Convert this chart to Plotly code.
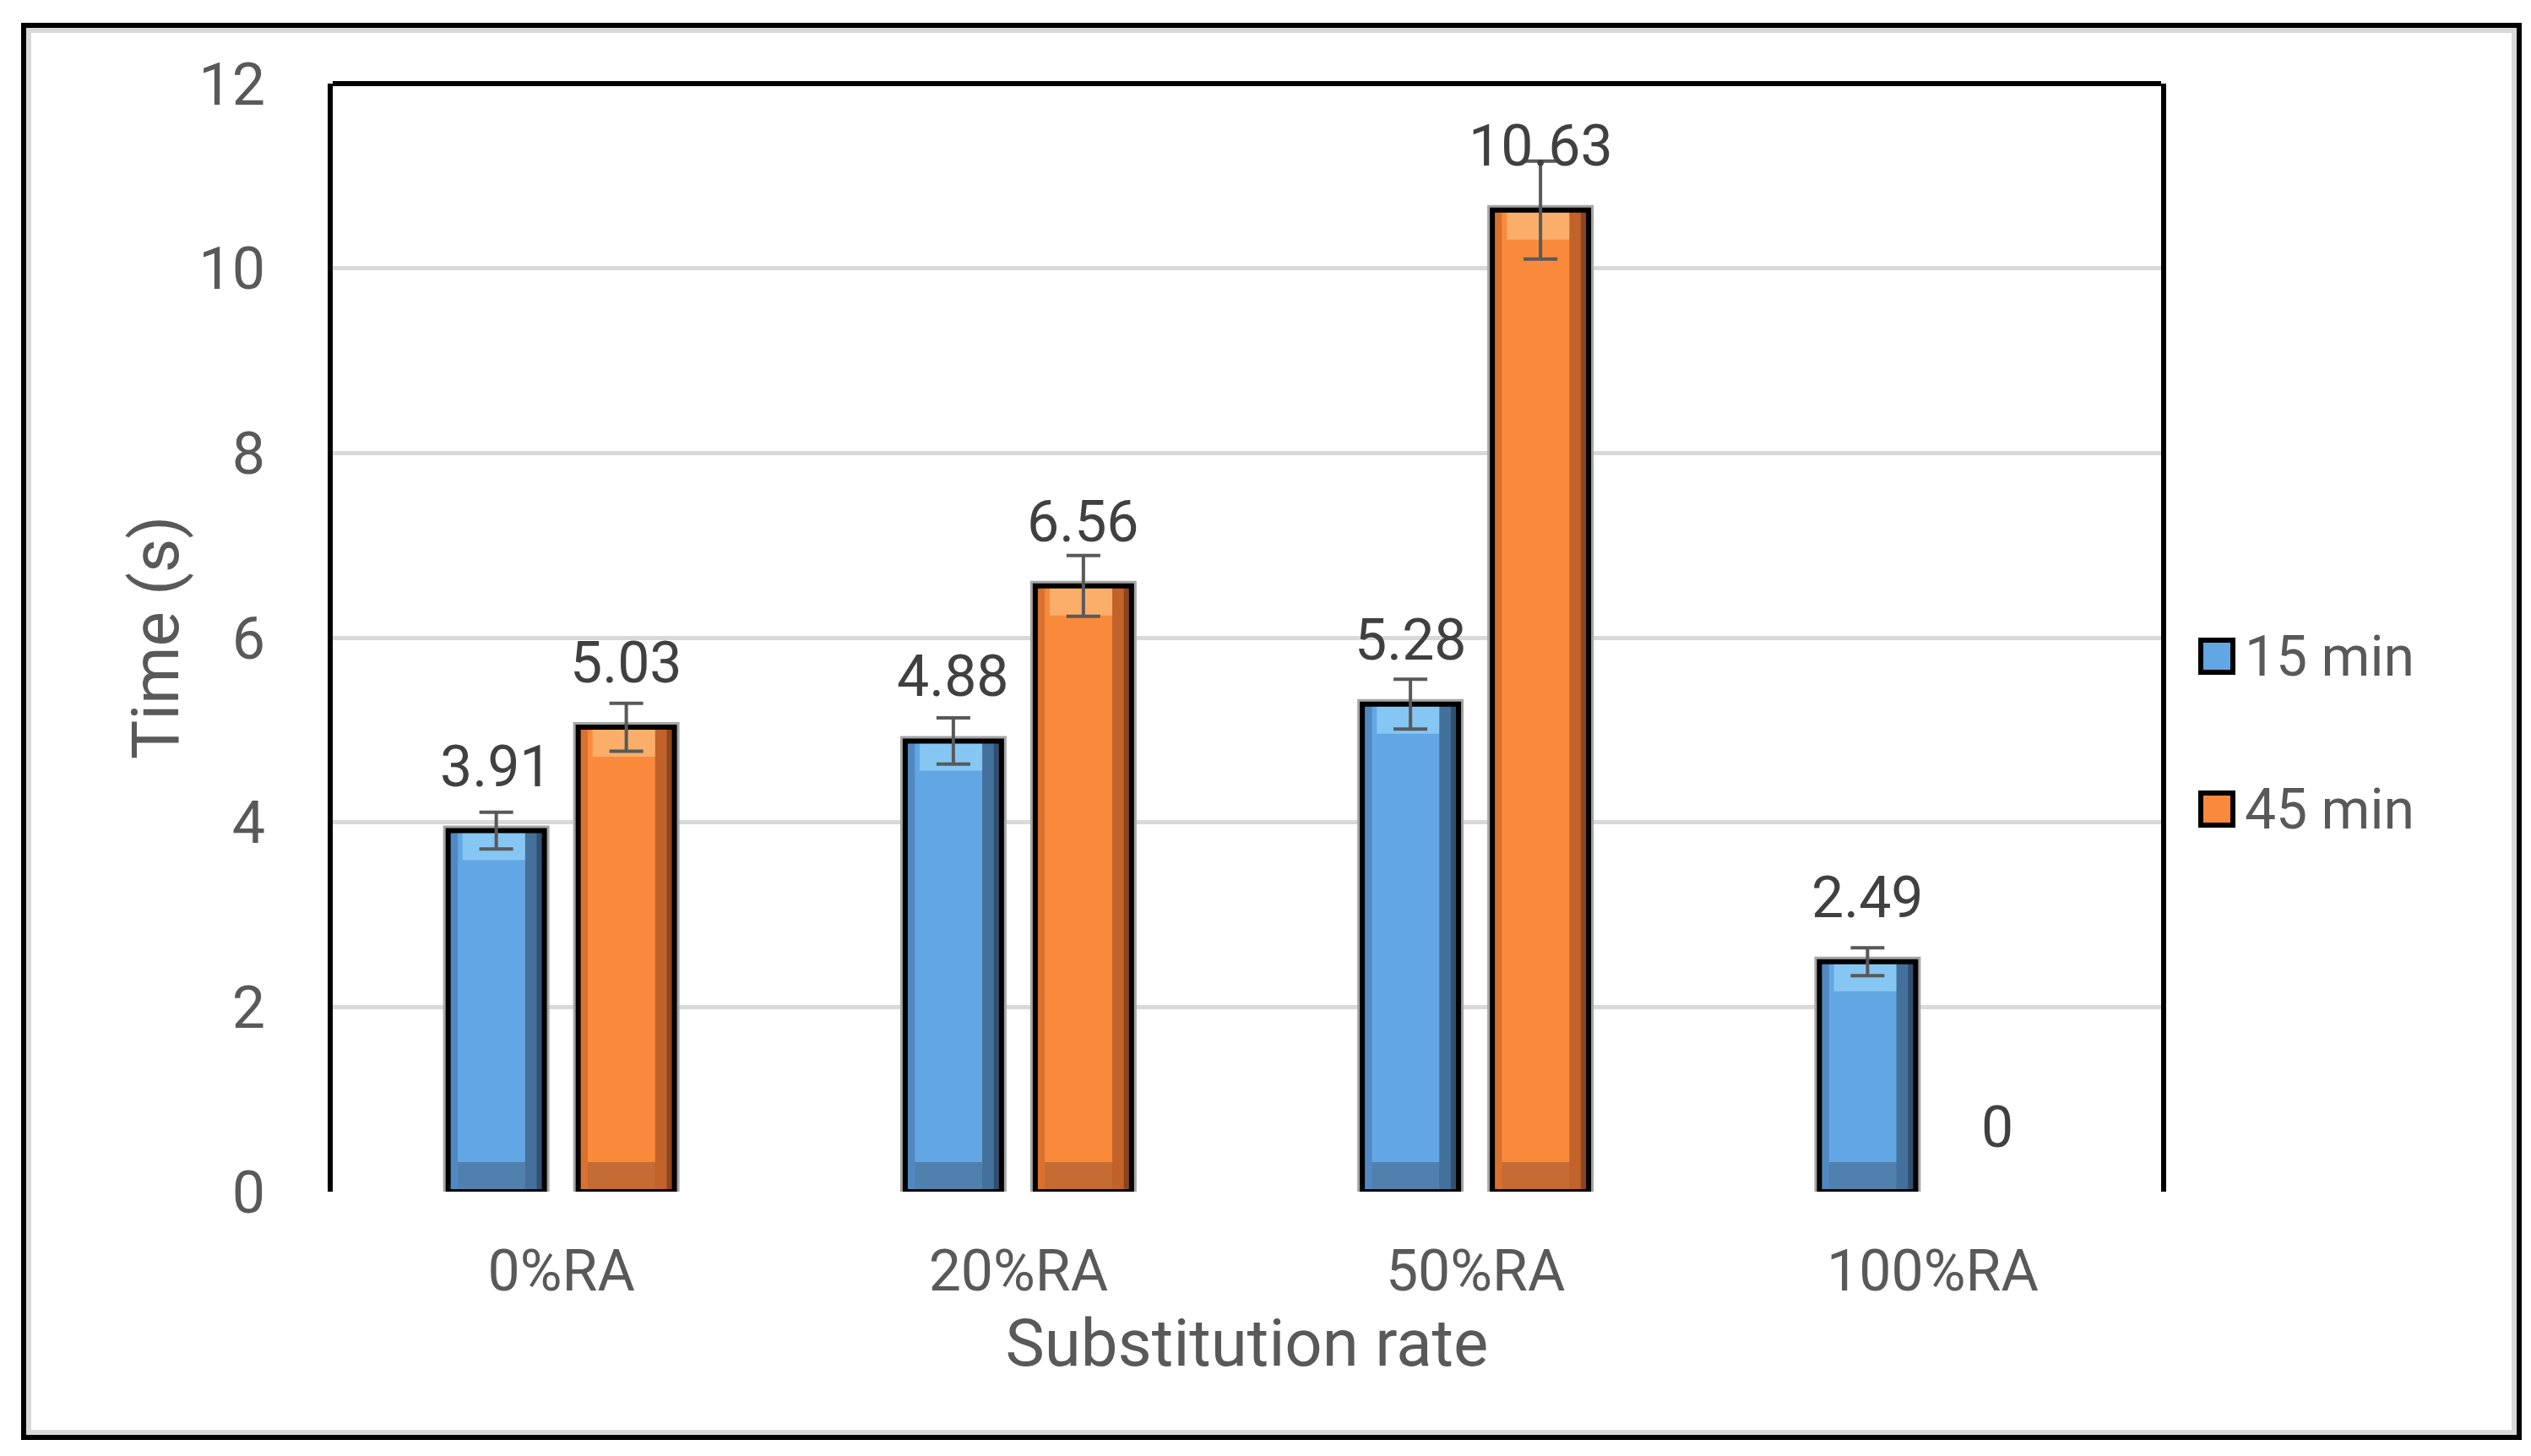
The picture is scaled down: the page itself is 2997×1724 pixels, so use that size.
import plotly.graph_objects as go

# ---------------- data ----------------
categories = ["0%RA", "20%RA", "50%RA", "100%RA"]
series_names = ["15 min", "45 min"]
values_15 = [3.91, 4.88, 5.28, 2.49]
values_45 = [5.03, 6.56, 10.63, 0]
errors_15 = [0.20, 0.25, 0.27, 0.15]
errors_45 = [0.26, 0.33, 0.53, None]
y_ticks = [0, 2, 4, 6, 8, 10, 12]

# ---------------- layout constants ----------------
W, H = 2997, 1724
L, R, T, B = 386, 446, 91, 321
PW = W - L - R
PH = H - T - B
BARGAP = 0.431
GROUPGAP = 0.26
FONT = "Roboto, Arial, sans-serif"
AXIS_GREY = "#595959"
LABEL_GREY = "#404040"

# colour sets: main, left edge, right edge, far right, top light, bottom dark
STYLES = {
    "15 min": dict(main="#63A6E4", left="#5089C2", right="#44709C", far="#30506F",
                   top="#86C6F2", bottom="#5080AE"),
    "45 min": dict(main="#F98A3B", left="#D9712E", right="#C0622A", far="#8A451D",
                   top="#FBAE6A", bottom="#C46C33"),
}


def px_x(px):
    return (px - L) / PW


def px_y(px):
    return (H - B - px) / PH


slot = (1 - BARGAP) / 2            # width of one bar slot in category units
bw = slot * (1 - GROUPGAP)          # bar width in category units
centers = [-slot / 2, slot / 2]
BAND = 0.32                         # bevel band height (data units)

fig = go.Figure()
series = [
    (series_names[0], values_15, errors_15),
    (series_names[1], values_45, errors_45),
]
for (name, vals, errs), c in zip(series, centers):
    st = STYLES[name]
    left_edge = c - bw / 2
    common = dict(x=categories, hoverinfo="skip", showlegend=False)
    # grey halo
    fig.add_trace(go.Bar(y=vals, width=bw, offset=left_edge,
                         marker=dict(color="rgba(0,0,0,0)",
                                     line=dict(color="#A6A6A6",
                                               width=[12 if v > 0 else 0 for v in vals])),
                         **common))
    # main fill
    fig.add_trace(go.Bar(y=vals, width=bw, offset=left_edge,
                         marker=dict(color=st["main"], line=dict(width=0)), **common))
    # bottom darker band
    fig.add_trace(go.Bar(y=[min(BAND, v) for v in vals], base=[0] * len(vals),
                         width=bw * 0.84, offset=left_edge + bw * 0.08,
                         marker=dict(color=st["bottom"], line=dict(width=0)), **common))
    # top lighter band
    fig.add_trace(go.Bar(y=[min(BAND, v) for v in vals],
                         base=[v - min(BAND, v) for v in vals],
                         width=bw * 0.7, offset=left_edge + bw * 0.15,
                         marker=dict(color=st["top"], line=dict(width=0)), **common))
    # left edge shading
    fig.add_trace(go.Bar(y=vals, width=bw * 0.1, offset=left_edge,
                         marker=dict(color=st["left"], line=dict(width=0)), **common))
    # right edge shading (two steps)
    fig.add_trace(go.Bar(y=vals, width=bw * 0.2, offset=left_edge + bw * 0.8,
                         marker=dict(color=st["right"], line=dict(width=0)), **common))
    fig.add_trace(go.Bar(y=vals, width=bw * 0.08, offset=left_edge + bw * 0.92,
                         marker=dict(color=st["far"], line=dict(width=0)), **common))
    # outline + error bars (missing error values -> "NaN" so no cap is drawn)
    fig.add_trace(go.Bar(y=vals, width=bw, offset=left_edge, name=name,
                         marker=dict(color="rgba(0,0,0,0)",
                                     line=dict(color="black",
                                               width=[6 if v > 0 else 0 for v in vals])),
                         error_y=dict(type="data",
                                      array=[e if e is not None else "NaN" for e in errs],
                                      visible=True, color=AXIS_GREY, thickness=4, width=20),
                         **common))

# data labels (annotations anchored at the data values)
cat_w = PW / len(categories)
annotations = []
for (name, vals, errs), c in zip(series, centers):
    for cat, v in zip(categories, vals):
        annotations.append(dict(
            x=cat, y=v, xref="x", yref="y", text=f"{v:g}", showarrow=False,
            xshift=c * cat_w, yshift=34, yanchor="bottom",
            font=dict(family=FONT, size=68, color=LABEL_GREY)))

# manual legend with large square keys
legend_y_px = [769, 950]
shapes = []
for name, ypx in zip(series_names, legend_y_px):
    shapes.append(dict(type="rect", xref="paper", yref="paper",
                       x0=px_x(2598), x1=px_x(2636), y0=px_y(ypx + 19), y1=px_y(ypx - 19),
                       fillcolor=STYLES[name]["main"], line=dict(color="black", width=6)))
    annotations.append(dict(x=px_x(2648), y=px_y(ypx), xref="paper", yref="paper",
                            text=name, showarrow=False, xanchor="left", yanchor="middle",
                            font=dict(family=FONT, size=66, color=AXIS_GREY)))

# plot-area top frame line
shapes.append(dict(type="line", xref="paper", yref="paper", x0=0, x1=1, y0=1, y1=1,
                   line=dict(color="black", width=6)))
# outer chart border: grey inner line + black outer line
shapes.append(dict(type="rect", xref="paper", yref="paper",
                   x0=px_x(26), x1=px_x(2969), y0=px_y(1688), y1=px_y(28),
                   line=dict(color="#D9D9D9", width=6), layer="below"))
shapes.append(dict(type="rect", xref="paper", yref="paper",
                   x0=px_x(20), x1=px_x(2975), y0=px_y(1694), y1=px_y(22),
                   line=dict(color="black", width=6)))

fig.update_layout(
    width=W, height=H,
    margin=dict(l=L, r=R, t=T, b=B, autoexpand=False),
    paper_bgcolor="white", plot_bgcolor="white",
    barmode="overlay",
    showlegend=False,
    annotations=annotations,
    shapes=shapes,
    font=dict(family=FONT, color=AXIS_GREY),
)
fig.update_xaxes(
    title=dict(text="Substitution rate", font=dict(size=78, color=AXIS_GREY), standoff=14),
    tickfont=dict(size=68, color=AXIS_GREY),
    ticklabelstandoff=48,
    showgrid=False, showline=False, ticks="",
)
fig.update_yaxes(
    title=dict(text="Time (s)", font=dict(size=78, color=AXIS_GREY), standoff=0),
    range=[0, 12], tickvals=y_ticks,
    tickfont=dict(size=70, color=AXIS_GREY),
    ticklabelstandoff=60,
    showgrid=True, gridcolor="#D9D9D9", gridwidth=5,
    zeroline=False,
    showline=True, mirror=True, linecolor="black", linewidth=6,
    ticks="",
)

fig.write_html("out.html")
